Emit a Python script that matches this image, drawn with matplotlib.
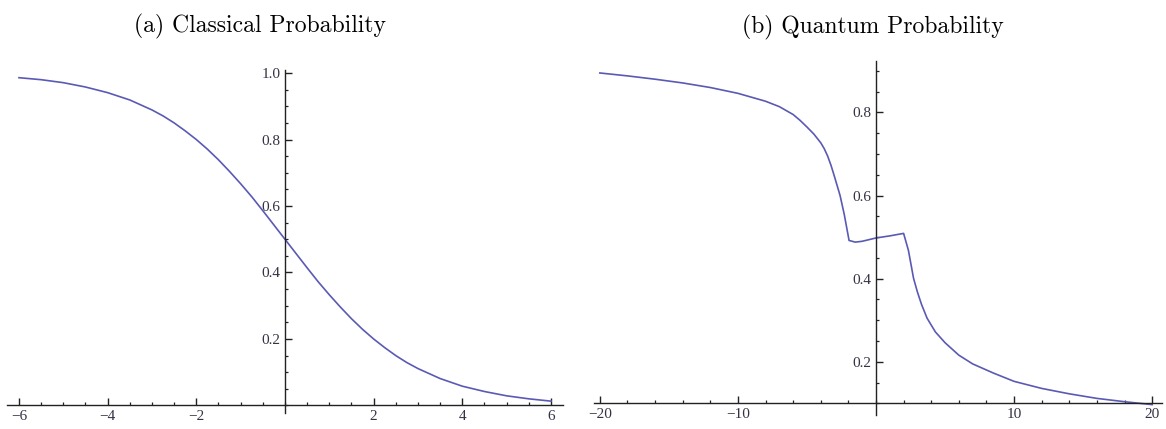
import matplotlib
matplotlib.use("Agg")
import matplotlib.pyplot as plt
from matplotlib.ticker import FixedLocator, MultipleLocator

# (a) classical probability
x_cl = [-6, -5.5, -5, -4.5, -4, -3.5, -3, -2.75, -2.5, -2.25, -2, -1.75, -1.5, -1.25, -1,
        -0.75, -0.5, -0.25, 0, 0.25, 0.5, 0.75, 1, 1.25, 1.5, 1.75, 2, 2.25, 2.5, 2.75, 3,
        3.5, 4, 4.5, 5, 5.5, 6]
y_cl = [0.986, 0.980, 0.971, 0.958, 0.941, 0.919, 0.889, 0.871, 0.850, 0.826, 0.800, 0.771,
        0.739, 0.704, 0.667, 0.628, 0.586, 0.543, 0.5, 0.457, 0.414, 0.372, 0.333, 0.296,
        0.261, 0.229, 0.200, 0.174, 0.150, 0.129, 0.111, 0.081, 0.058, 0.042, 0.029, 0.020, 0.013]

# (b) quantum probability
x_qu = [-20, -18, -16, -14, -12, -10, -8, -7, -6, -5.5, -5, -4.5, -4, -3.75, -3.5, -3.25, -3,
        -2.6, -2.3, -1.95, -1.5, -1, 0, 1, 2, 2.35, 2.72, 3.0, 3.3, 3.7, 4.3, 5, 6, 7, 8.5,
        10, 12, 14, 16, 18, 20]
y_qu = [0.895, 0.888, 0.880, 0.871, 0.860, 0.846, 0.827, 0.814, 0.795, 0.781, 0.765, 0.748,
        0.727, 0.713, 0.695, 0.672, 0.645, 0.600, 0.555, 0.492, 0.488, 0.490, 0.498, 0.503,
        0.509, 0.468, 0.401, 0.368, 0.338, 0.305, 0.272, 0.246, 0.216, 0.195, 0.173, 0.153,
        0.136, 0.123, 0.112, 0.104, 0.097]

titles = ["(a) Classical Probability", "(b) Quantum Probability"]

line_col = "#5a5ab4"
axis_col = "#222222"
tick_font = "Liberation Serif"

fig = plt.figure(figsize=(11.66, 4.29), dpi=100)

def style_axes(ax, y0, xmaj, xmin, xlabels, ymaj, ymin, ylabels):
    for s in ["top", "right"]:
        ax.spines[s].set_visible(False)
    ax.spines["left"].set_position(("data", 0))
    ax.spines["bottom"].set_position(("data", y0))
    for s in ["left", "bottom"]:
        ax.spines[s].set_color(axis_col)
        ax.spines[s].set_linewidth(1.0)
    ax.xaxis.set_major_locator(FixedLocator(xmaj))
    ax.xaxis.set_minor_locator(MultipleLocator(xmin))
    ax.set_xticklabels(xlabels)
    ax.yaxis.set_major_locator(FixedLocator(ymaj))
    ax.yaxis.set_minor_locator(MultipleLocator(ymin))
    ax.set_yticklabels(ylabels)
    ax.tick_params(which="major", direction="in", length=5, width=1.0, color=axis_col,
                   labelsize=11, labelcolor="#333344", pad=3)
    ax.tick_params(which="minor", direction="in", length=2.5, width=0.9, color=axis_col)
    for lab in ax.get_xticklabels() + ax.get_yticklabels():
        lab.set_fontfamily(tick_font)
    ax.patch.set_alpha(0)

# left panel
ax1 = fig.add_axes([0.006, 0.0378, 0.4768, 0.7997])
ax1.plot(x_cl, y_cl, color=line_col, lw=1.2)
ax1.set_xlim(-6.27, 6.27)
ax1.set_ylim(-0.022, 1.01)
style_axes(ax1, 0,
           [-6, -4, -2, 2, 4, 6], 0.5, ["\u22126", "\u22124", "\u22122", "2", "4", "6"],
           [0.2, 0.4, 0.6, 0.8, 1.0], 0.05, ["0.2", "0.4", "0.6", "0.8", "1.0"])

# right panel
ax2 = fig.add_axes([0.5097, 0.0326, 0.4867, 0.8254])
ax2.plot(x_qu, y_qu, color=line_col, lw=1.2)
ax2.set_xlim(-20.4, 20.7)
ax2.set_ylim(0.072, 0.924)
style_axes(ax2, 0.1,
           [-20, -10, 10, 20], 2, ["\u221220", "\u221210", "10", "20"],
           [0.2, 0.4, 0.6, 0.8], 0.05, ["0.2", "0.4", "0.6", "0.8"])

fig.text(0.223, 0.938, titles[0], ha="center", va="center", fontsize=17, family="cmr10")
fig.text(0.749, 0.935, titles[1], ha="center", va="center", fontsize=17, family="cmr10")

fig.savefig("out.png", dpi=100)
